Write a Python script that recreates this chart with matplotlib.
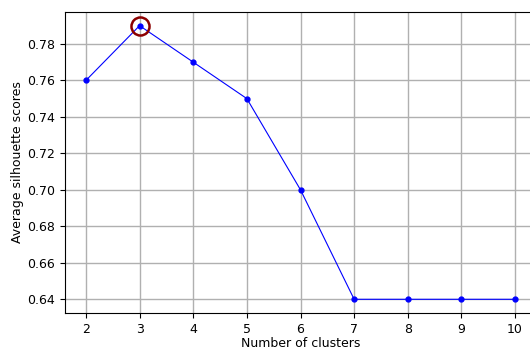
import numpy as np
import matplotlib
matplotlib.use("Agg")
import matplotlib.pyplot as plt

# silhouette scores for each candidate cluster count
n_clusters = [2, 3, 4, 5, 6, 7, 8, 9, 10]
scores = [0.76, 0.79, 0.77, 0.75, 0.70, 0.64, 0.64, 0.64, 0.64]

best = int(np.argmax(scores))

fig = plt.figure(figsize=(5.30, 3.49), dpi=100)
ax = fig.add_axes([0.1217, 0.1032, 0.8906, 0.8625])

ax.plot(n_clusters, scores, color="blue", linewidth=0.8, marker="o", markersize=3.5)
ax.plot(n_clusters[best], scores[best], marker="o", markersize=13,
        markerfacecolor="none", markeredgecolor="darkred", markeredgewidth=1.8)

ax.set_xticks(n_clusters)
ax.set_xlabel("Number of clusters", fontsize=9, labelpad=1)
ax.set_ylabel("Average silhouette scores", fontsize=9, labelpad=2)
ax.tick_params(labelsize=9)
ax.grid(True, color="#b0b0b0", linewidth=1)
ax.spines["right"].set_visible(False)

fig.savefig("out.png", dpi=100)
